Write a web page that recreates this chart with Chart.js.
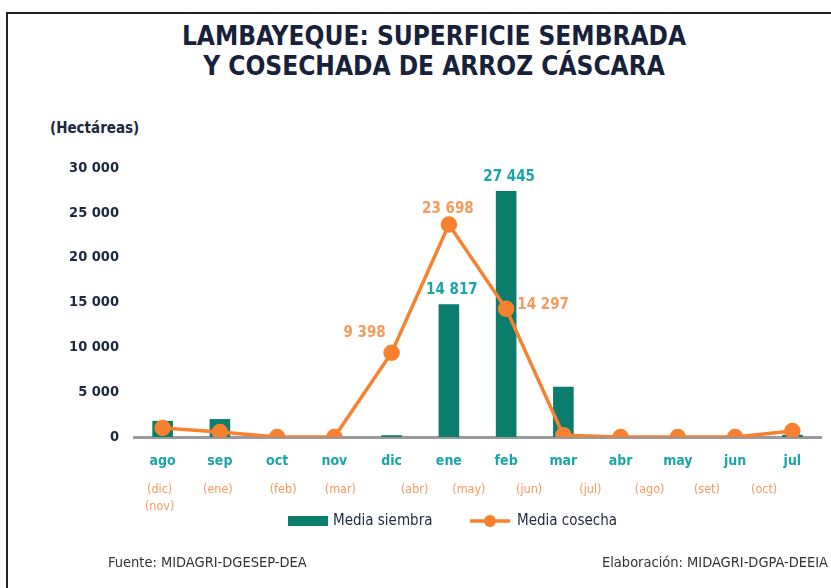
<!DOCTYPE html>
<html>
<head>
<meta charset="utf-8">
<script src="https://cdn.jsdelivr.net/npm/chart.js@4.4.1/dist/chart.umd.min.js"></script>
<style>
  body { margin: 0; width: 831px; height: 588px; overflow: hidden; background: #fff; position: relative;
         font-family: 'Liberation Sans Narrow', 'DejaVu Sans Condensed', sans-serif; }
  .frame { position: absolute; left: 6px; top: 12px; width: 900px; height: 700px; border: 2px solid #222; }
  h1 { position: absolute; left: 0; top: 21px; width: 868px; margin: 0; text-align: center;
       font-size: 26px; line-height: 30px; color: #18213a; font-weight: bold; }
  .unit { position: absolute; left: 50px; top: 119px; font-size: 15px; font-weight: bold; color: #1c2740; }
  .foot { position: absolute; top: 554px; font-size: 14.5px; color: #333; white-space: nowrap; }
  canvas { position: absolute; left: 0; top: 0; }
</style>
</head>
<body>
<div class="frame"></div>
<h1>LAMBAYEQUE: SUPERFICIE SEMBRADA<br>Y COSECHADA DE ARROZ CÁSCARA</h1>
<div class="unit">(Hectáreas)</div>
<div style="position:absolute;left:0;top:0;width:831px;height:588px"><canvas id="chart"></canvas></div>
<div class="foot" style="left:108px">Fuente: MIDAGRI-DGESEP-DEA</div>
<div class="foot" style="left:602px">Elaboración: MIDAGRI-DGPA-DEEIA</div>
<script>
const FONT = "'Liberation Sans Narrow', 'DejaVu Sans Condensed', sans-serif";

// data
const months = ['ago', 'sep', 'oct', 'nov', 'dic', 'ene', 'feb', 'mar', 'abr', 'may', 'jun', 'jul'];
const harvestMonths = [['(dic)', '(nov)'], ['(ene)'], ['(feb)'], ['(mar)'], ['(abr)'], ['(may)'],
                       ['(jun)'], ['(jul)'], ['(ago)'], ['(set)'], ['(oct)'], []];
const siembra = [1800, 2000, 0, 0, 200, 14817, 27445, 5600, 0, 0, 0, 250];
const cosecha = [1000, 560, 0, 0, 9398, 23698, 14297, 200, 0, 0, 0, 670];
const yTicks = [0, 5000, 10000, 15000, 20000, 25000, 30000];
// which values get a label, and where
const siembraLabels = { 5: 'top', 6: 'top' };
const cosechaLabels = { 4: 'left', 5: 'top', 6: 'right' };

// style
const TEAL = '#0b7d6c';
const TEAL_TXT = '#1aa5a8';
const ORANGE = '#f7812f';
const ORANGE_TXT = '#f79a5c';
const NAVY = '#1c2740';
const subShift = [-3, -2, 6, 6, 23, 20, 23, 27, 29, 29, 29, 0];

const fmt = v => String(v).replace(/\B(?=(\d{3})+(?!\d))/g, ' ');

const extras = {
  id: 'extras',
  afterDraw(chart) {
    const ctx = chart.ctx;
    const xs = chart.scales.x;
    const base = chart.chartArea.bottom;
    ctx.save();
    ctx.textAlign = 'center';
    ctx.textBaseline = 'middle';

    // second row of x labels (harvest months)
    ctx.font = '12.5px ' + FONT;
    ctx.fillStyle = ORANGE_TXT;
    harvestMonths.forEach((lines, i) => {
      lines.forEach((t, j) => ctx.fillText(t, xs.getPixelForValue(i) + subShift[i], base + 53 + j * 17));
    });

    // value labels
    ctx.font = 'bold 15px ' + FONT;
    const barMeta = chart.getDatasetMeta(0);
    ctx.fillStyle = TEAL_TXT;
    Object.keys(siembraLabels).forEach(i => {
      const el = barMeta.data[i];
      ctx.fillText(fmt(siembra[i]), el.x + 3, el.y - 14);
    });
    const lineMeta = chart.getDatasetMeta(1);
    ctx.fillStyle = ORANGE_TXT;
    Object.keys(cosechaLabels).forEach(i => {
      const el = lineMeta.data[i];
      const pos = cosechaLabels[i];
      if (pos === 'top') ctx.fillText(fmt(cosecha[i]), el.x - 1, el.y - 15);
      if (pos === 'left') ctx.fillText(fmt(cosecha[i]), el.x - 27, el.y - 20);
      if (pos === 'right') ctx.fillText(fmt(cosecha[i]), el.x + 37, el.y - 4);
    });

    // legend
    const ly = base + 84;
    ctx.fillStyle = TEAL;
    ctx.fillRect(288, ly - 5, 40, 10);
    ctx.strokeStyle = ORANGE;
    ctx.lineWidth = 3.5;
    ctx.beginPath(); ctx.moveTo(470, ly); ctx.lineTo(510, ly); ctx.stroke();
    ctx.fillStyle = ORANGE;
    ctx.beginPath(); ctx.arc(490, ly, 6, 0, Math.PI * 2); ctx.fill();
    ctx.font = '15px ' + FONT;
    ctx.fillStyle = NAVY;
    ctx.textAlign = 'left';
    ctx.fillText('Media siembra', 333, ly);
    ctx.fillText('Media cosecha', 517, ly);
    ctx.restore();
  }
};

new Chart(document.getElementById('chart'), {
  type: 'bar',
  data: {
    labels: months,
    datasets: [{
      type: 'bar',
      label: 'Media siembra',
      data: siembra,
      backgroundColor: TEAL,
      barPercentage: 0.36,
      categoryPercentage: 1,
      order: 2
    }, {
      type: 'line',
      label: 'Media cosecha',
      data: cosecha,
      borderColor: ORANGE,
      backgroundColor: ORANGE,
      borderWidth: 3.5,
      pointRadius: 6.5,
      pointHoverRadius: 6.5,
      tension: 0,
      order: 1
    }]
  },
  options: {
    responsive: true,
    maintainAspectRatio: false,
    animation: false,
    layout: { padding: { top: 168, left: 0, right: 7, bottom: 0 } },
    plugins: { legend: { display: false }, tooltip: { enabled: false } },
    scales: {
      x: {
        grid: { display: false, drawTicks: false },
        border: { display: true, color: '#9a9a9a', width: 3 },
        ticks: { color: TEAL_TXT, font: { family: FONT, size: 14, weight: 'bold' }, padding: 16, maxRotation: 0 },
        afterFit: s => { s.height = 151; }
      },
      y: {
        min: 0,
        max: 30000,
        afterBuildTicks: s => { s.ticks = yTicks.map(v => ({ value: v })); },
        grid: { display: false, drawTicks: false },
        border: { display: false },
        ticks: { color: NAVY, font: { family: FONT, size: 14.5, weight: 'bold' }, padding: 15, callback: v => fmt(v) },
        afterFit: s => { s.width = 134; }
      }
    }
  },
  plugins: [extras]
});
</script>
</body>
</html>
